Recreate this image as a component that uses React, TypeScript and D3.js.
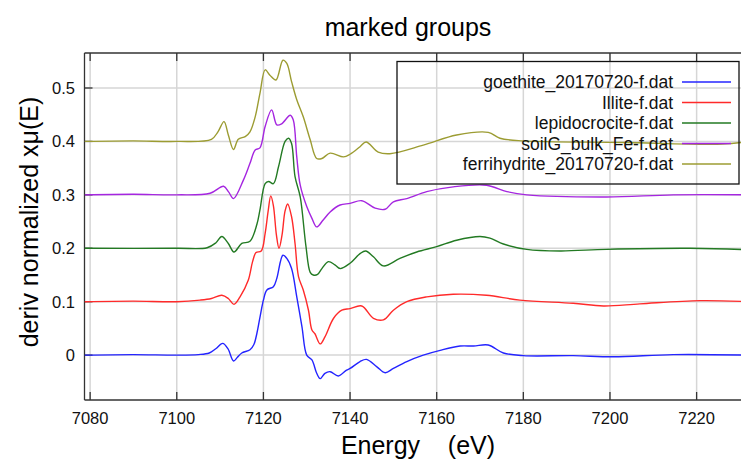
import React, { useEffect, useRef } from 'react';
import * as d3 from 'd3';

const xTicks = [7080, 7100, 7120, 7140, 7160, 7180, 7200, 7220];
const yTicks = [0, 0.1, 0.2, 0.3, 0.4, 0.5];

const seriesNames = [
  'goethite_20170720-f.dat',
  'Illite-f.dat',
  'lepidocrocite-f.dat',
  'soilG_bulk_Fe-f.dat',
  'ferrihydrite_20170720-f.dat',
];
const seriesColors = ['#2424ff', '#ff2a2a', '#237a23', '#a526e0', '#9c9c32'];

// [energy, deriv value] as plotted (offsets already included)
const goethite = [
  [7078.7, 0], [7090, 0.001], [7100, 0], [7105, 0.001], [7107.5, 0.004], [7109, 0.012], [7110.6, 0.022],
  [7111.8, 0.012], [7113.1, -0.011], [7114, -0.004], [7115, 0.004], [7116.9, 0.01], [7117.8, 0.02],
  [7118.5, 0.041], [7119.3, 0.075], [7120, 0.103], [7120.8, 0.122], [7122.3, 0.128], [7123.1, 0.144],
  [7124.5, 0.187], [7125.4, 0.181], [7126.5, 0.162], [7127.7, 0.109], [7128.9, 0.053], [7130, 0.0],
  [7131.2, -0.009], [7132.3, -0.034], [7133.1, -0.044], [7134.2, -0.034], [7135.4, -0.031], [7137.3, -0.039],
  [7139.2, -0.028], [7140, -0.025], [7142.3, -0.012], [7143.8, -0.008], [7146.2, -0.022], [7148.1, -0.033],
  [7150, -0.025], [7153.1, -0.012], [7156.9, 0], [7160.8, 0.009], [7165.4, 0.017], [7168.5, 0.017],
  [7171.9, 0.019], [7175.4, 0.004], [7180, -0.001], [7191.5, -0.001], [7200.8, -0.003], [7214.6, 0.001],
  [7232, 0],
];
const illite = [
  [7078.7, 0.1], [7090, 0.101], [7100, 0.1], [7105.4, 0.103], [7108, 0.106], [7110.4, 0.112], [7111.9, 0.106],
  [7113.2, 0.095], [7114.6, 0.109], [7116.5, 0.14], [7117.5, 0.175], [7118.3, 0.192], [7119.5, 0.195],
  [7120.4, 0.228], [7121.1, 0.27], [7121.7, 0.298], [7122.3, 0.28], [7123, 0.225], [7123.6, 0.2],
  [7124.3, 0.225], [7125, 0.27], [7125.6, 0.283], [7126.5, 0.259], [7127.3, 0.209], [7128.1, 0.147],
  [7129.2, 0.122], [7130.4, 0.084], [7131.2, 0.047], [7131.9, 0.04], [7133.1, 0.021], [7134.2, 0.034],
  [7136.2, 0.069], [7138.1, 0.084], [7140, 0.087], [7142.7, 0.092], [7145.4, 0.069], [7147.7, 0.066],
  [7150, 0.084], [7153.1, 0.1], [7157.7, 0.109], [7163.8, 0.114], [7171.5, 0.112], [7179.2, 0.103],
  [7191.5, 0.097], [7198.5, 0.092], [7206.9, 0.096], [7220.8, 0.102], [7232, 0.1],
];
const lepidocrocite = [
  [7078.7, 0.2], [7100, 0.2], [7107, 0.201], [7109, 0.21], [7110.4, 0.222], [7111.9, 0.209], [7113.2, 0.193],
  [7115, 0.209], [7116.9, 0.213], [7118.5, 0.245], [7119.2, 0.272], [7120.4, 0.321], [7121.2, 0.325],
  [7122.3, 0.321], [7123.5, 0.353], [7125, 0.4], [7125.8, 0.406], [7126.5, 0.396], [7127.3, 0.334],
  [7128.5, 0.296], [7129.8, 0.205], [7130.8, 0.155], [7131.5, 0.15], [7132.5, 0.151], [7133.5, 0.162],
  [7135, 0.175], [7136.5, 0.169], [7137.7, 0.162], [7140, 0.172], [7142.3, 0.19], [7143.6, 0.195],
  [7145.4, 0.184], [7147.7, 0.167], [7151.5, 0.181], [7155.4, 0.193], [7160, 0.203], [7164.6, 0.215],
  [7170, 0.222], [7172.3, 0.219], [7175.4, 0.208], [7180.8, 0.198], [7188.5, 0.195], [7199.2, 0.198],
  [7218.5, 0.2], [7232, 0.197],
];
const soilG = [
  [7078.7, 0.3], [7090, 0.301], [7100, 0.3], [7107.7, 0.303], [7110.8, 0.316], [7112, 0.305], [7113.1, 0.293],
  [7115.4, 0.328], [7116.9, 0.359], [7118.1, 0.384], [7119.2, 0.388], [7120.4, 0.428], [7121.9, 0.459],
  [7123.1, 0.431], [7124.2, 0.433], [7126.2, 0.449], [7126.9, 0.44], [7127.7, 0.371], [7128.5, 0.318],
  [7130, 0.278], [7131.2, 0.256], [7132.3, 0.24], [7133.8, 0.253], [7135.4, 0.268], [7137.7, 0.281],
  [7140, 0.284], [7142.7, 0.289], [7145.8, 0.275], [7148.1, 0.273], [7150, 0.287], [7153.1, 0.293],
  [7157.7, 0.306], [7163.8, 0.315], [7171.5, 0.318], [7176.2, 0.306], [7180.8, 0.3], [7199.2, 0.296],
  [7214.6, 0.3], [7232, 0.3],
];
const ferrihydrite = [
  [7078.7, 0.4], [7090, 0.401], [7100, 0.4], [7108, 0.404], [7109.5, 0.418], [7110.9, 0.437], [7111.9, 0.412],
  [7113.1, 0.385], [7114.2, 0.404], [7115.8, 0.409], [7116.9, 0.418], [7118.1, 0.446], [7119.2, 0.49],
  [7120.4, 0.534], [7121.5, 0.524], [7122.9, 0.515], [7124.5, 0.552], [7125.4, 0.546], [7126.5, 0.512],
  [7127.7, 0.478], [7129.2, 0.446], [7130.8, 0.403], [7132.3, 0.368], [7133.5, 0.368], [7135.4, 0.378],
  [7138.5, 0.371], [7140, 0.376], [7142.3, 0.39], [7143.7, 0.399], [7146.5, 0.38], [7149.2, 0.377],
  [7156.9, 0.393], [7164.6, 0.412], [7171.9, 0.417], [7174.6, 0.406], [7180, 0.401], [7203, 0.398],
  [7226, 0.395], [7232, 0.4],
];

const allSeries = [goethite, illite, lepidocrocite, soilG, ferrihydrite];

const App = () => {
  const svgRef = useRef(null);

  useEffect(() => {
    const svg = d3.select(svgRef.current);
    svg.selectAll('*').remove();

    const left = 84.5, right = 748.6, top = 53, bottom = 400;
    const font = '"Liberation Sans", Arial, sans-serif';

    const x = d3.scaleLinear().domain([7078.7, 7232]).range([left, right]);
    const y = d3.scaleLinear().domain([-0.084, 0.5655]).range([bottom, top]);

    svg.append('rect').attr('width', 741).attr('height', 459).attr('fill', '#fff');

    // grid
    svg.append('g').selectAll('line').data(xTicks).enter().append('line')
      .attr('x1', (d) => x(d)).attr('x2', (d) => x(d))
      .attr('y1', top).attr('y2', bottom)
      .attr('stroke', '#d6d6d6').attr('stroke-width', 1.5);
    svg.append('g').selectAll('line').data(yTicks).enter().append('line')
      .attr('x1', left).attr('x2', right)
      .attr('y1', (d) => y(d)).attr('y2', (d) => y(d))
      .attr('stroke', '#d6d6d6').attr('stroke-width', 1.5);

    // frame
    const frame = svg.append('g').attr('stroke', '#333').attr('stroke-width', 1.3);
    frame.append('line').attr('x1', left).attr('x2', right).attr('y1', top).attr('y2', top);
    frame.append('line').attr('x1', left).attr('x2', right).attr('y1', bottom).attr('y2', bottom);
    frame.append('line').attr('x1', left).attr('x2', left).attr('y1', top).attr('y2', bottom);

    // ticks (inward)
    xTicks.forEach((t) => {
      frame.append('line').attr('x1', x(t)).attr('x2', x(t)).attr('y1', bottom).attr('y2', bottom - 8);
      frame.append('line').attr('x1', x(t)).attr('x2', x(t)).attr('y1', top).attr('y2', top + 8);
    });
    yTicks.forEach((t) => {
      frame.append('line').attr('x1', left).attr('x2', left + 8).attr('y1', y(t)).attr('y2', y(t));
    });

    // curves
    svg.append('clipPath').attr('id', 'plotclip')
      .append('rect').attr('x', left).attr('y', top).attr('width', right - left).attr('height', bottom - top);

    const line = d3.line()
      .x((d) => x(d[0]))
      .y((d) => y(d[1]))
      .curve(d3.curveCatmullRom.alpha(0.5));

    const curves = svg.append('g').attr('clip-path', 'url(#plotclip)');
    allSeries.forEach((s, i) => {
      curves.append('path')
        .attr('d', line(s))
        .attr('fill', 'none')
        .attr('stroke', seriesColors[i])
        .attr('stroke-width', 1.4)
        .attr('stroke-linejoin', 'round');
    });

    // tick labels
    svg.append('g').selectAll('text').data(xTicks).enter().append('text')
      .attr('x', (d) => x(d)).attr('y', 424)
      .attr('text-anchor', 'middle')
      .style('font-family', font).style('font-size', '16.5px').attr('fill', '#111')
      .text((d) => d);
    svg.append('g').selectAll('text').data(yTicks).enter().append('text')
      .attr('x', 75).attr('y', (d) => y(d) + 6)
      .attr('text-anchor', 'end')
      .style('font-family', font).style('font-size', '16.5px').attr('fill', '#111')
      .text((d) => (d === 0 ? '0' : d3.format('.1f')(d)));

    // titles
    svg.append('text').attr('x', 408).attr('y', 36).attr('text-anchor', 'middle')
      .style('font-family', font).style('font-size', '25px').attr('fill', '#000')
      .text('marked groups');
    svg.append('text').attr('x', 418).attr('y', 454).attr('text-anchor', 'middle')
      .style('font-family', font).style('font-size', '25px').style('white-space', 'pre').attr('fill', '#000')
      .text('Energy    (eV)');
    svg.append('text').attr('transform', 'translate(38,222) rotate(-90)').attr('text-anchor', 'middle')
      .style('font-family', font).style('font-size', '25px').attr('fill', '#000')
      .text('deriv normalized xμ(E)');

    // legend
    const lg = svg.append('g');
    lg.append('rect').attr('x', 397).attr('y', 61.5).attr('width', 342).attr('height', 122.5)
      .attr('fill', 'none').attr('stroke', '#111').attr('stroke-width', 1.3);
    seriesNames.forEach((name, i) => {
      const cy = 82 + i * 20.5;
      lg.append('text').attr('x', 673).attr('y', cy + 6).attr('text-anchor', 'end')
        .style('font-family', font).style('font-size', '17.5px').attr('fill', '#111')
        .text(name);
      lg.append('line').attr('x1', 682).attr('x2', 731).attr('y1', cy).attr('y2', cy)
        .attr('stroke', seriesColors[i]).attr('stroke-width', 1.6);
    });
  }, []);

  return (
    <svg
      ref={svgRef}
      width={741}
      height={459}
      style={{ position: 'absolute', left: 0, top: 0 }}
    ></svg>
  );
};

export default App;
